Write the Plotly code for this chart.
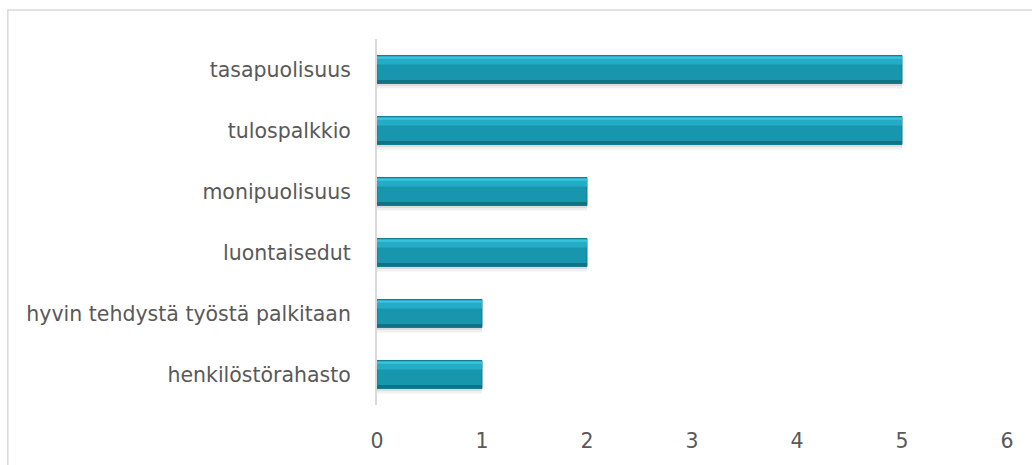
import plotly.graph_objects as go

categories = ["henkilöstörahasto", "hyvin tehdystä työstä palkitaan", "luontaisedut",
              "monipuolisuus", "tulospalkkio", "tasapuolisuus"]
values = [1, 1, 2, 2, 5, 5]
x_ticks = [0, 1, 2, 3, 4, 5, 6]

BW = 0.46
fig = go.Figure()
# soft shadow
fig.add_trace(go.Bar(y=categories, x=values, orientation="h", width=0.10, offset=-BW / 2 - 0.08,
                     marker=dict(color="rgba(0,0,0,0.06)", line=dict(width=0)), hoverinfo="skip"))
fig.add_trace(go.Bar(y=categories, x=values, orientation="h", width=0.05, offset=-BW / 2 - 0.04,
                     marker=dict(color="rgba(0,0,0,0.08)", line=dict(width=0)), hoverinfo="skip"))
# main body
fig.add_trace(go.Bar(y=categories, x=values, orientation="h", width=BW, offset=-BW / 2,
                     marker=dict(color="#1896ae", line=dict(color="#137c90", width=1))))
# upper lighter band
fig.add_trace(go.Bar(y=categories, x=values, orientation="h", width=0.13, offset=BW / 2 - 0.15,
                     marker=dict(color="#24abc5", line=dict(width=0)), hoverinfo="skip"))
fig.add_trace(go.Bar(y=categories, x=values, orientation="h", width=0.04, offset=BW / 2 - 0.055,
                     marker=dict(color="#3cc4dc", line=dict(width=0)), hoverinfo="skip"))
# bottom dark band
fig.add_trace(go.Bar(y=categories, x=values, orientation="h", width=0.05, offset=-BW / 2 + 0.008,
                     marker=dict(color="#107385", line=dict(width=0)), hoverinfo="skip"))

fig.update_layout(
    width=1032, height=465,
    margin=dict(l=377, r=25, t=39, b=57),
    paper_bgcolor="white", plot_bgcolor="white",
    barmode="overlay", showlegend=False,
    font=dict(family="DejaVu Sans", size=20.5, color="#595959"),
    shapes=[dict(type="rect", xref="paper", yref="paper", x0=-0.586, y0=-0.4, x1=1.2, y1=1.079,
                 line=dict(color="#d9d9d9", width=1.5), layer="below")],
)
fig.update_xaxes(range=[0, 6], tickvals=x_ticks, showgrid=False, zeroline=False, showline=False,
                 tickfont=dict(size=20.5, color="#595959"), ticklabelstandoff=21)
fig.update_yaxes(categoryorder="array", categoryarray=categories, showgrid=False,
                 showline=True, linecolor="#d9d9d9", linewidth=2, ticks="", ticklabelstandoff=20,
                 tickfont=dict(size=20.5, color="#595959"))

fig.write_html("out.html")
